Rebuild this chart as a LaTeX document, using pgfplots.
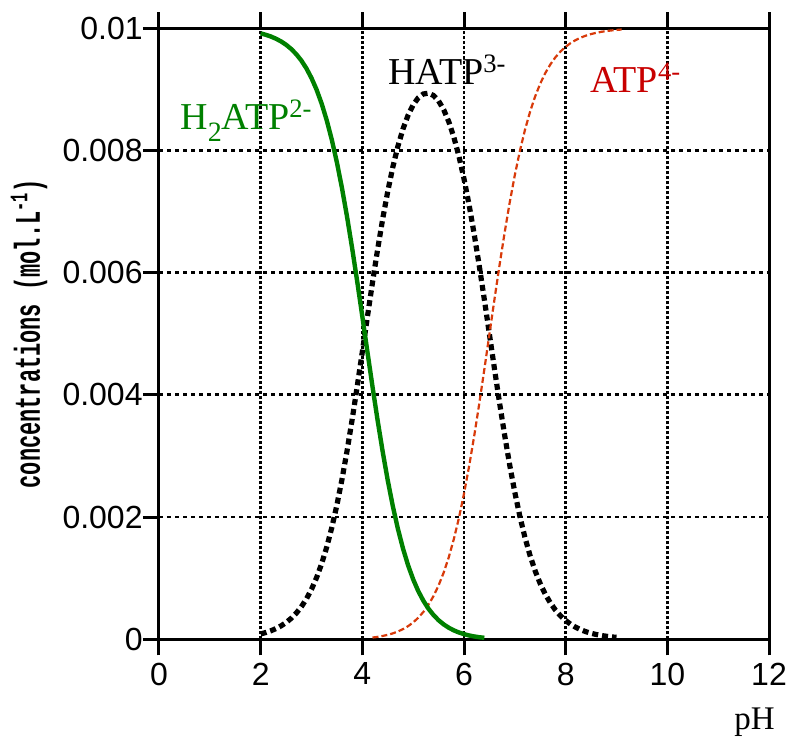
\documentclass[border=0pt]{standalone}
\usepackage{pgfplots}
\pgfplotsset{compat=1.18}
\usepackage{fontspec}
\setmainfont{Liberation Serif}
\newfontfamily\tickfont{Liberation Sans}
\newfontfamily\labfont{Liberation Mono}
\definecolor{cgreen}{RGB}{0,128,0}
\definecolor{cred}{RGB}{216,58,10}
\definecolor{clab}{RGB}{200,0,0}
\begin{document}
\begin{tikzpicture}
\useasboundingbox (-79.5pt,-50.35pt) rectangle (315.5pt,319.65pt);
\begin{axis}[
  at={(0,0)}, anchor=south west,
  scale only axis, width=305pt, height=305.65pt,
  xmin=0, xmax=12, ymin=0, ymax=0.01,
  xtick={0,2,4,6,8,10,12}, ytick={0,0.002,0.004,0.006,0.008,0.01},
  xticklabels={0,2,4,6,8,10,12},
  yticklabels={0,0.002,0.004,0.006,0.008,0.01},
  scaled y ticks=false,
  tick align=outside, xtick pos=both, ytick pos=left,
  major tick length=8pt,
  every tick/.style={black, line width=1.5pt},
  axis line style={line width=1.5pt},
  grid=major,
  x grid style={black, line width=1.3pt, dash pattern=on 1.5pt off 1pt},
  y grid style={black, line width=1.3pt, dash pattern=on 2pt off 2pt},
  ticklabel style={font=\tickfont\fontsize{16}{16}\selectfont, inner sep=0pt},
  xticklabel style={anchor=north, yshift=-3.5pt},
  yticklabel style={anchor=east},
  clip=false,
]
\addplot[black, line width=2.6pt, dash pattern=on 3pt off 2pt] coordinates {
(2.0,0.000088)(2.1,0.000111)(2.2,0.000139)(2.3,0.000175)(2.4,0.000219)(2.5,0.000274)(2.6,0.000343)(2.7,0.000428)(2.8,0.000532)(2.9,0.000661)(3.0,0.000818)(3.1,0.001009)(3.2,0.001238)(3.3,0.001510)(3.4,0.001829)(3.5,0.002198)(3.6,0.002618)(3.7,0.003086)(3.8,0.003597)(3.9,0.004141)(4.0,0.004706)(4.1,0.005276)(4.2,0.005838)(4.3,0.006375)(4.4,0.006875)(4.5,0.007327)(4.6,0.007725)(4.7,0.008066)(4.8,0.008349)(4.9,0.008574)(5.0,0.008743)(5.1,0.008858)(5.2,0.008921)(5.3,0.008934)(5.4,0.008896)(5.5,0.008807)(5.6,0.008665)(5.7,0.008468)(5.8,0.008215)(5.9,0.007903)(6.0,0.007533)(6.1,0.007107)(6.2,0.006630)(6.3,0.006110)(6.4,0.005559)(6.5,0.004991)(6.6,0.004421)(6.7,0.003865)(6.8,0.003337)(6.9,0.002846)(7.0,0.002402)(7.1,0.002007)(7.2,0.001663)(7.3,0.001368)(7.4,0.001118)(7.5,0.000909)(7.6,0.000736)(7.7,0.000594)(7.8,0.000477)(7.9,0.000383)(8.0,0.000307)(8.1,0.000245)(8.2,0.000196)(8.3,0.000156)(8.4,0.000124)(8.5,0.000099)(8.6,0.000079)(8.7,0.000063)(8.8,0.000050)(8.9,0.000040)(9.0,0.000032)
};
\addplot[cred, line width=1.1pt, dash pattern=on 3pt off 1.5pt] coordinates {
(4.2,0.000029)(4.3,0.000040)(4.4,0.000055)(4.5,0.000073)(4.6,0.000097)(4.7,0.000128)(4.8,0.000167)(4.9,0.000215)(5.0,0.000276)(5.1,0.000353)(5.2,0.000447)(5.3,0.000564)(5.4,0.000707)(5.5,0.000881)(5.6,0.001091)(5.7,0.001342)(5.8,0.001639)(5.9,0.001985)(6.0,0.002382)(6.1,0.002829)(6.2,0.003323)(6.3,0.003855)(6.4,0.004416)(6.5,0.004991)(6.6,0.005566)(6.7,0.006126)(6.8,0.006657)(6.9,0.007150)(7.0,0.007595)(7.1,0.007991)(7.2,0.008336)(7.3,0.008631)(7.4,0.008881)(7.5,0.009091)(7.6,0.009264)(7.7,0.009406)(7.8,0.009523)(7.9,0.009617)(8.0,0.009693)(8.1,0.009755)(8.2,0.009804)(8.3,0.009844)(8.4,0.009876)(8.5,0.009901)(8.6,0.009921)(8.7,0.009937)(8.8,0.009950)(8.9,0.009960)(9.0,0.009968)(9.1,0.009975)
};
\addplot[cgreen, line width=2.2pt] coordinates {
(2.0,0.009912)(2.1,0.009889)(2.2,0.009861)(2.3,0.009825)(2.4,0.009781)(2.5,0.009726)(2.6,0.009657)(2.7,0.009572)(2.8,0.009468)(2.9,0.009339)(3.0,0.009181)(3.1,0.008991)(3.2,0.008762)(3.3,0.008489)(3.4,0.008170)(3.5,0.007800)(3.6,0.007379)(3.7,0.006909)(3.8,0.006396)(3.9,0.005849)(4.0,0.005280)(4.1,0.004703)(4.2,0.004133)(4.3,0.003585)(4.4,0.003071)(4.5,0.002600)(4.6,0.002177)(4.7,0.001806)(4.8,0.001485)(4.9,0.001211)(5.0,0.000981)(5.1,0.000789)(5.2,0.000632)(5.3,0.000502)(5.4,0.000397)(5.5,0.000312)(5.6,0.000244)(5.7,0.000190)(5.8,0.000146)(5.9,0.000112)(6.0,0.000085)(6.1,0.000063)(6.2,0.000047)(6.3,0.000034)(6.4,0.000025)
};
\node[anchor=base west, inner sep=0pt, text=cgreen, font=\fontsize{19}{19}\selectfont] at (axis cs:0.413,0.008336) {H\raisebox{-6pt}{\fontsize{14}{14}\selectfont 2}ATP\textsuperscript{2-}};
\node[anchor=base west, inner sep=0pt, text=black, font=\fontsize{19}{19}\selectfont] at (axis cs:4.505,0.009072) {HATP\textsuperscript{3-}};
\node[anchor=base west, inner sep=0pt, text=clab, font=\fontsize{19}{19}\selectfont] at (axis cs:8.48,0.00894) {ATP\textsuperscript{4-}};
\node[anchor=base east, inner sep=0pt, font=\fontsize{16.5}{16.5}\selectfont] at (axis cs:12.12,-0.001468) {pH};
\node[anchor=base, inner sep=0pt, rotate=90] at (axis cs:-2.341,0.004997) {\scalebox{0.61}[1]{\labfont\bfseries\fontsize{18}{18}\selectfont concentrations (mol.L\textsuperscript{-1})}};
\end{axis}
\end{tikzpicture}
\end{document}
